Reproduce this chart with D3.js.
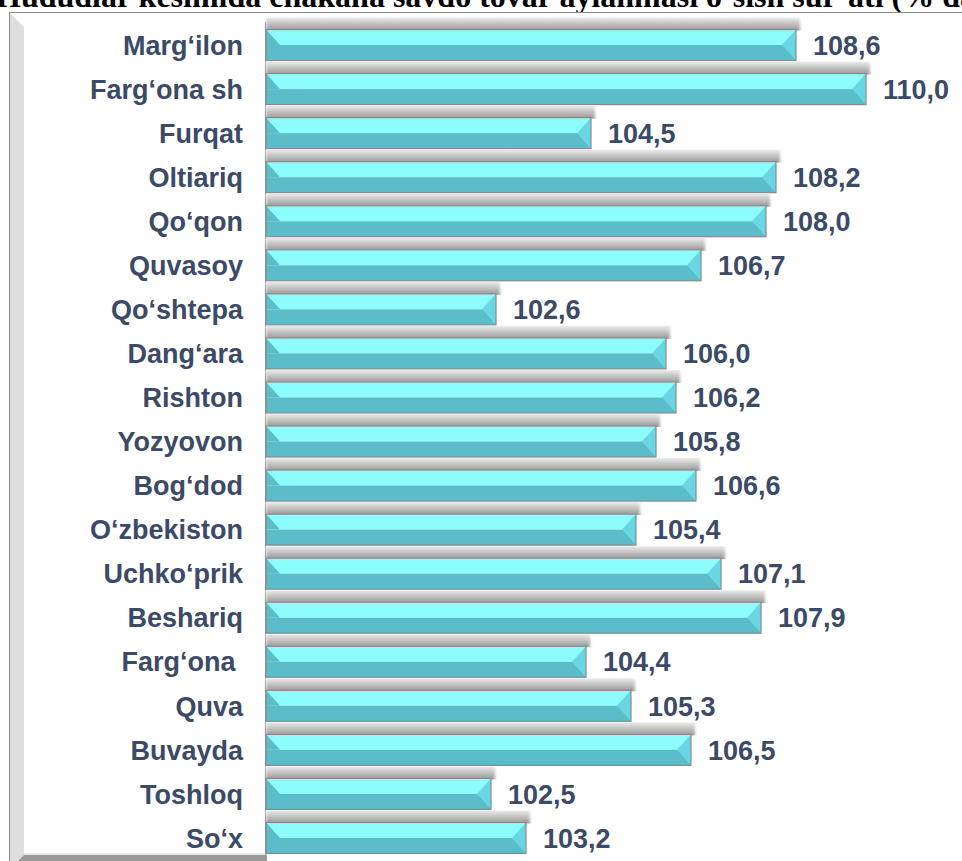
<!DOCTYPE html>
<meta charset="utf-8">
<style>
    body { margin: 0; background: #fff; overflow: hidden; }
    svg { display: block; }
</style>
<script src="https://d3js.org/d3.v7.min.js"></script>
<div id="chart"></div>
<script>

    var title = "Hududlar kesimida chakana savdo tovar aylanmasi o‘sish sur’ati (% da)";

    var regions = ["Marg‘ilon", "Farg‘ona sh", "Furqat", "Oltiariq", "Qo‘qon", "Quvasoy", "Qo‘shtepa",
        "Dang‘ara", "Rishton", "Yozyovon", "Bog‘dod", "O‘zbekiston", "Uchko‘prik", "Beshariq",
        "Farg‘ona ", "Quva", "Buvayda", "Toshloq", "So‘x"];

    var growth = [108.6, 110.0, 104.5, 108.2, 108.0, 106.7, 102.6, 106.0, 106.2, 105.8,
        106.6, 105.4, 107.1, 107.9, 104.4, 105.3, 106.5, 102.5, 103.2];

    var width = 962, height = 861;
    var labelColor = "#3b4a66";

    var svg = d3.select("#chart").append("svg")
        .attr("width", width)
        .attr("height", height);

    var defs = svg.append("defs");
    var topGrad = defs.append("linearGradient")
        .attr("id", "topFace").attr("x1", 0).attr("y1", 0).attr("x2", 0).attr("y2", 1);
    topGrad.append("stop").attr("offset", "0%").attr("stop-color", "#ececec");
    topGrad.append("stop").attr("offset", "45%").attr("stop-color", "#c4c4c4");
    topGrad.append("stop").attr("offset", "100%").attr("stop-color", "#979797");

    defs.append("filter")
        .attr("id", "soft")
        .attr("x", "-5%").attr("width", "110%")
        .append("feGaussianBlur")
        .attr("stdDeviation", "1.6 0.6");

    // title (cut off by the top of the picture)
    svg.append("text")
        .attr("x", -4)
        .attr("y", 7)
        .style("font", "bold 32px 'Liberation Serif', 'Times New Roman', serif")
        .style("fill", "#000")
        .text(title);

    // chart frame
    svg.append("rect")
        .attr("x", 9.5).attr("y", 12.5)
        .attr("width", 1000).attr("height", 900)
        .attr("fill", "#fff")
        .attr("stroke", "#8c8c8c");

    // left wall
    svg.append("path")
        .attr("d", "M10,13 L24,27 L24,855 L18,861 L10,861 Z")
        .attr("fill", "#dedede");

    // floor
    svg.append("path")
        .attr("d", "M24,853 L267,853 L267,855 L24,855 Z")
        .attr("fill", "#e8e8e8");
    svg.append("path")
        .attr("d", "M24,855 L267,855 L267,861 L18,861 Z")
        .attr("fill", "#9a9a9a");

    var x = d3.scaleLinear()
        .domain([98, 112])
        .range([266, 966]);

    var y = d3.scaleBand()
        .domain(regions)
        .range([23, 860])
        .paddingInner(0);

    var data = regions.map(function (r, i) { return {name: r, value: growth[i]}; });

    var frontH = 31, topH = 12, bevel = 14;

    // axis plane line
    svg.append("line")
        .attr("x1", x(98) - 0.5).attr("x2", x(98) - 0.5)
        .attr("y1", 22).attr("y2", 855)
        .attr("stroke", "#9a9a9a");

    var bars = svg.selectAll(".bar")
        .data(data)
        .enter().append("g")
        .attr("class", "bar");

    function cy(d) { return y(d.name) + y.bandwidth() / 2; }

    // top face of the 3d bar
    bars.append("rect")
        .attr("x", x(98))
        .attr("y", function (d) { return cy(d) - frontH / 2 - topH; })
        .attr("width", function (d) { return x(d.value) - x(98) + 4; })
        .attr("height", topH + 1)
        .attr("fill", "url(#topFace)")
        .attr("filter", "url(#soft)");

    // front face: upper light half, lower dark half
    bars.append("rect")
        .attr("x", x(98))
        .attr("y", function (d) { return cy(d) - frontH / 2; })
        .attr("width", function (d) { return x(d.value) - x(98); })
        .attr("height", frontH / 2)
        .attr("fill", "#8dfcfd");

    bars.append("rect")
        .attr("x", x(98))
        .attr("y", function (d) { return cy(d); })
        .attr("width", function (d) { return x(d.value) - x(98); })
        .attr("height", frontH / 2)
        .attr("fill", "#5bbcca");

    // left bevel
    bars.append("path")
        .attr("d", function (d) {
            var x0 = x(98), t = cy(d) - frontH / 2, m = cy(d);
            return "M" + x0 + "," + t + "L" + (x0 + bevel) + "," + m + "L" + x0 + "," + m + "Z";
        })
        .attr("fill", "#5bbcca");

    // right bevel
    bars.append("path")
        .attr("d", function (d) {
            var x1 = x(d.value), t = cy(d) - frontH / 2, m = cy(d), b = cy(d) + frontH / 2;
            return "M" + x1 + "," + t + "L" + (x1 - bevel) + "," + m + "L" + x1 + "," + b + "Z";
        })
        .attr("fill", "#6ad6e4");

    // outline
    bars.append("rect")
        .attr("x", x(98))
        .attr("y", function (d) { return cy(d) - frontH / 2; })
        .attr("width", function (d) { return x(d.value) - x(98); })
        .attr("height", frontH)
        .attr("fill", "none")
        .attr("stroke", "#8a8a8a")
        .attr("stroke-width", 1.2);

    var fmt = d3.format(".1f");

    // value labels
    bars.append("text")
        .attr("x", function (d) { return x(d.value) + 17; })
        .attr("y", function (d) { return cy(d); })
        .attr("dy", "0.36em")
        .style("font", "bold 27px 'Liberation Sans', Arial, sans-serif")
        .style("fill", labelColor)
        .text(function (d) { return fmt(d.value).replace(".", ","); });

    // category labels
    bars.append("text")
        .attr("x", 243)
        .attr("y", function (d) { return cy(d); })
        .attr("dy", "0.36em")
        .attr("text-anchor", "end")
        .style("white-space", "pre")
        .style("font", "bold 27px 'Liberation Sans', Arial, sans-serif")
        .style("fill", labelColor)
        .text(function (d) { return d.name; });

</script>
